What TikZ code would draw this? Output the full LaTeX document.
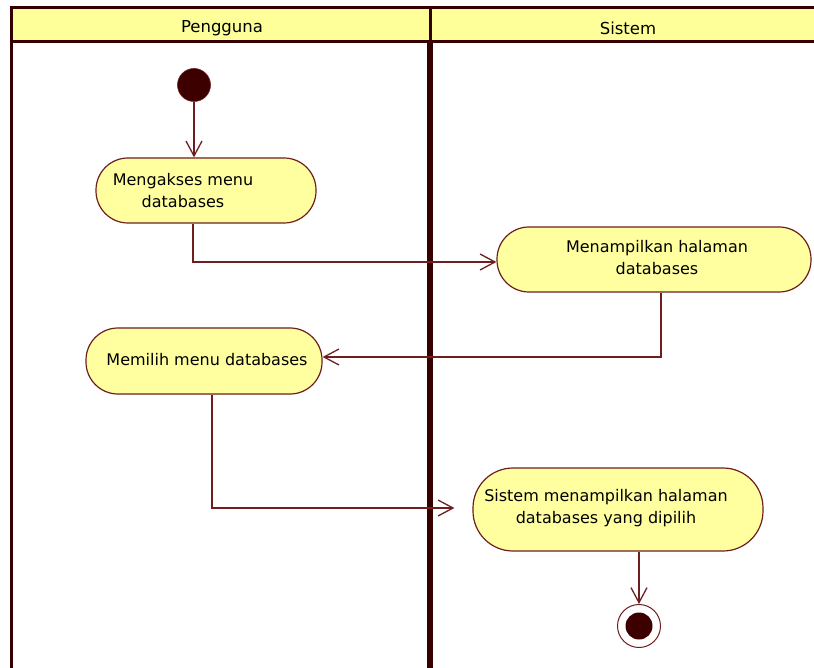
\documentclass[tikz,border=0pt]{standalone}
\usepackage{fontspec}
\setmainfont{DejaVu Sans}
\usetikzlibrary{arrows.meta}
\definecolor{actfill}{RGB}{255,255,160}
\definecolor{hdrfill}{RGB}{255,255,153}
\definecolor{actline}{RGB}{110,30,30}
\definecolor{laneline}{RGB}{55,0,0}
\definecolor{dotfill}{RGB}{60,0,0}
\tikzset{
  act/.style={draw=actline, line width=1.2pt, fill=actfill, rectangle, inner sep=0pt},
  txt/.style={font=\fontsize{16}{22}\selectfont, align=center, inner sep=0pt, text=black},
  flow/.style={draw=actline, line width=1.3pt, -{Straight Barb[length=15pt,width=16pt,line width=1.3pt]}},
  lane/.style={draw=laneline},
}
\begin{document}
\begin{tikzpicture}[x=1pt,y=-1pt]
\useasboundingbox (0,0) rectangle (814,668);
% swimlanes
\fill[hdrfill] (11,8) rectangle (814,42);
\draw[lane, line width=3pt] (9.5,8) -- (814,8);
\draw[lane, line width=3pt] (11,42) -- (814,42);
\draw[lane, line width=3pt] (11,6.5) -- (11,668);
\draw[lane, line width=3pt] (430,8) -- (430,42);
\draw[lane, line width=6pt] (430,42) -- (430,668);
\node[txt, font=\fontsize{16.5}{20}\selectfont] (hp) at (222,28.5) {Pengguna};
\node[txt, font=\fontsize{16.5}{20}\selectfont] (hs) at (628,28.5) {Sistem};
% start
\node[circle, fill=dotfill, draw=actline, line width=0.6pt, minimum size=33pt, inner sep=0pt] (start) at (194,85) {};
% activities
\node[act, rounded corners=32pt, minimum width=220pt, minimum height=65pt] (n1) at (206,190.5) {};
\node[txt] (t1) at (183,191) {Mengakses menu\\databases};
\node[act, rounded corners=32pt, minimum width=314pt, minimum height=65pt] (n2) at (654,259.5) {};
\node[txt] (t2) at (657,258) {Menampilkan halaman\\databases};
\node[act, rounded corners=32pt, minimum width=236pt, minimum height=66pt] (n3) at (204,361) {};
\node[txt] (t3) at (207,360) {Memilih menu databases};
\node[act, rounded corners=40pt, minimum width=290pt, minimum height=83pt] (n4) at (618,509.5) {};
\node[txt] (t4) at (606,508) {Sistem menampilkan halaman\\databases yang dipilih};
% end
\node[circle, fill=white, draw=actline, line width=1pt, minimum size=43pt, inner sep=0pt] (end) at (639,626) {};
\node[circle, fill=dotfill, minimum size=27pt, inner sep=0pt] (endin) at (end.center) {};
% flows
\draw[flow] (start.south) -- (n1.north -| start.south);
\draw[flow] (n1.south -| 193,0) |- (n2.west |- 0,262);
\draw[flow] (n2.south -| 661,0) |- (n3.east |- 0,357);
\draw[flow, shorten >=18pt] (n3.south -| 212,0) |- (n4.west |- 0,508);
\draw[flow] (n4.south -| end.north) -- (end.north);
\end{tikzpicture}
\end{document}
